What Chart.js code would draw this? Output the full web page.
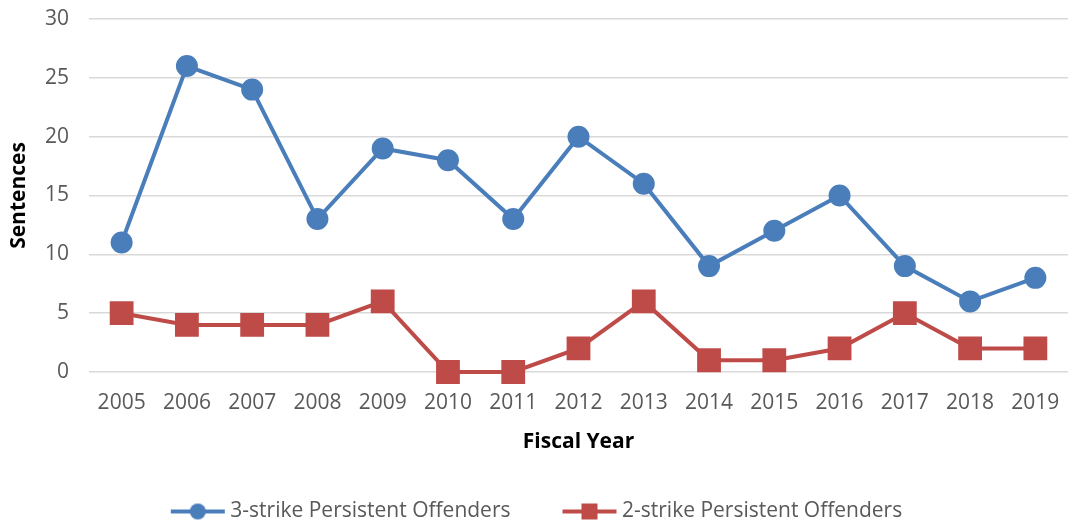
<!DOCTYPE html>
<html>
<head>
<meta charset="utf-8">
<script src="https://cdn.jsdelivr.net/npm/chart.js@4"></script>
<style>
html,body{margin:0;padding:0;background:#fff;}
#wrap{width:1068px;height:523px;}
</style>
</head>
<body>
<div id="wrap"><canvas id="c" width="1068" height="523"></canvas></div>
<script>
const years = ['2005','2006','2007','2008','2009','2010','2011','2012','2013','2014','2015','2016','2017','2018','2019'];
const threeStrike = [11,26,24,13,19,18,13,20,16,9,12,15,9,6,8];
const twoStrike = [5,4,4,4,6,0,0,2,6,1,1,2,5,2,2];
const yTicks = [0,5,10,15,20,25,30];
const seriesNames = ['3-strike Persistent Offenders','2-strike Persistent Offenders'];

const BLUE = '#4A7EBB';
const RED = '#BE4B48';
const FONT = '"Open Sans", sans-serif';
const BOXW = 54;

function legendIcon(color, shape){
  const shift = 5;
  const e = 8;
  const cv = document.createElement('canvas');
  cv.width = BOXW + 2*e; cv.height = 22;
  const g = cv.getContext('2d');
  g.strokeStyle = color; g.lineWidth = 4; g.lineCap = 'butt';
  const x0 = e + shift, x1 = e + shift + BOXW;
  g.beginPath(); g.moveTo(x0,11); g.lineTo(x1,11); g.stroke();
  g.fillStyle = color;
  const cx = (x0 + x1)/2;
  if (shape === 'circle'){ g.beginPath(); g.arc(cx,11,8,0,Math.PI*2); g.fill(); }
  else { g.fillRect(cx-8,3,16,16); }
  return cv;
}
const icons = [legendIcon(BLUE,'circle'), legendIcon(RED,'rect')];

new Chart(document.getElementById('c'), {
  type: 'line',
  data: {
    labels: years,
    datasets: [
      {label: seriesNames[0], data: threeStrike, borderColor: BLUE, backgroundColor: BLUE, clip: false,
       borderWidth: 4, pointStyle: 'circle', pointRadius: 9, pointHoverRadius: 9, tension: 0},
      {label: seriesNames[1], data: twoStrike, borderColor: RED, backgroundColor: RED, clip: false,
       borderWidth: 4, pointStyle: 'rect', pointRadius: 14, pointHoverRadius: 14, tension: 0}
    ]
  },
  options: {
    responsive: false,
    animation: false,
    layout: {autoPadding: false, padding: {top: 19, right: 0, left: 0, bottom: -9}},
    plugins: {
      tooltip: {enabled: false},
      legend: {
        position: 'bottom',
        labels: {
          usePointStyle: true,
          pointStyleWidth: BOXW,
          padding: 47,
          color: '#595959',
          font: {family: FONT, size: 21},
          generateLabels(chart){
            return chart.data.datasets.map((ds,i)=>({
              text: ds.label, pointStyle: icons[i], fillStyle: ds.borderColor,
              strokeStyle: ds.borderColor, lineWidth: 0, datasetIndex: i, hidden: false,
              fontColor: '#595959'
            }));
          }
        }
      }
    },
    scales: {
      x: {
        offset: true,
        afterFit(scale){ scale.height = 82; scale.paddingLeft = 0; scale.paddingRight = 0; },
        grid: {display: false},
        border: {display: false},
        ticks: {color: '#595959', font: {family: FONT, size: 21}, padding: 10, maxRotation: 0},
        title: {display: true, text: 'Fiscal Year', color: '#000', font: {family: FONT, size: 21, weight: 'bold'}, padding: {top: 0, bottom: -1}}
      },
      y: {
        min: 0, max: 30,
        afterBuildTicks(scale){ scale.ticks = yTicks.map(v=>({value:v})); },
        afterFit(scale){ scale.width = 89; scale.paddingTop = 0; scale.paddingBottom = 0; },
        grid: {color: '#D9D9D9', lineWidth: 1.5, drawTicks: false},
        border: {display: false},
        ticks: {color: '#595959', font: {family: FONT, size: 21}, padding: 20},
        title: {display: true, text: 'Sentences', color: '#000', font: {family: FONT, size: 21, weight: 'bold'}, padding: {top: 6, bottom: 0}}
      }
    }
  }
});
</script>
</body>
</html>
